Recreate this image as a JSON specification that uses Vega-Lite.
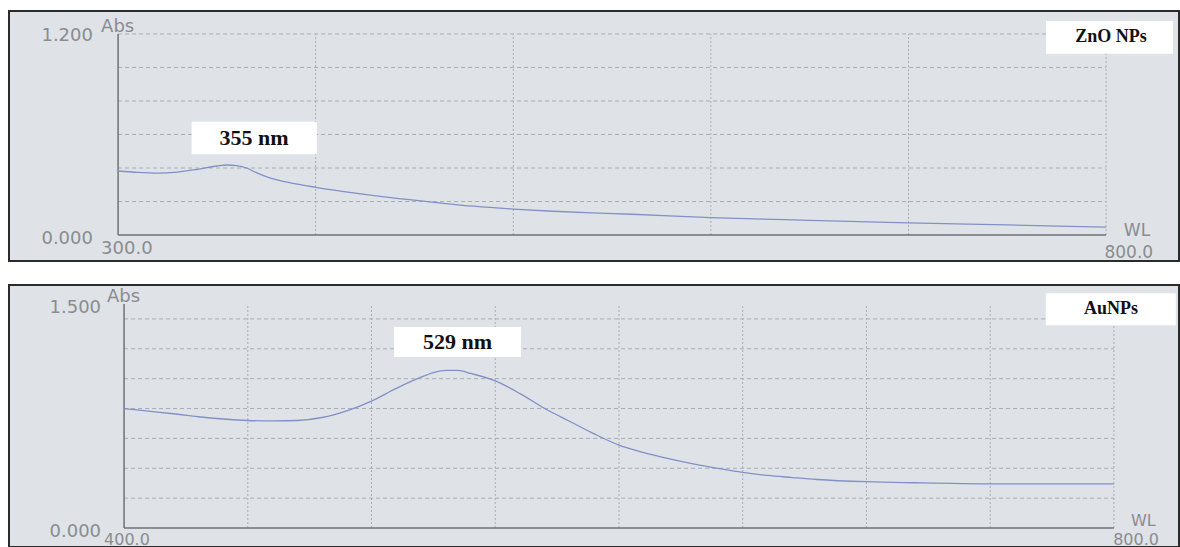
{
  "$schema": "https://vega.github.io/schema/vega-lite/v6.json",
  "background": "#ffffff",
  "padding": {"left": 8, "top": 10, "right": 2, "bottom": 0},
  "spacing": 24,
  "bounds": "flush",
  "config": {"font": "DejaVu Sans"},
  "datasets": {
    "zno": [
      {"wl": 300, "abs": 0.382}, {"wl": 310, "abs": 0.374}, {"wl": 320, "abs": 0.370},
      {"wl": 330, "abs": 0.376}, {"wl": 340, "abs": 0.392}, {"wl": 350, "abs": 0.412},
      {"wl": 355, "abs": 0.418}, {"wl": 360, "abs": 0.414}, {"wl": 365, "abs": 0.400},
      {"wl": 370, "abs": 0.372}, {"wl": 375, "abs": 0.348}, {"wl": 380, "abs": 0.330},
      {"wl": 390, "abs": 0.305}, {"wl": 400, "abs": 0.285}, {"wl": 420, "abs": 0.250},
      {"wl": 440, "abs": 0.220}, {"wl": 460, "abs": 0.195}, {"wl": 480, "abs": 0.172},
      {"wl": 500, "abs": 0.155}, {"wl": 520, "abs": 0.142}, {"wl": 540, "abs": 0.132},
      {"wl": 560, "abs": 0.124}, {"wl": 600, "abs": 0.104}, {"wl": 650, "abs": 0.088},
      {"wl": 700, "abs": 0.073}, {"wl": 750, "abs": 0.060}, {"wl": 800, "abs": 0.047}
    ],
    "aunp": [
      {"wl": 400, "abs": 0.800}, {"wl": 410, "abs": 0.782}, {"wl": 420, "abs": 0.765},
      {"wl": 430, "abs": 0.745}, {"wl": 440, "abs": 0.730}, {"wl": 450, "abs": 0.720},
      {"wl": 460, "abs": 0.717}, {"wl": 470, "abs": 0.720}, {"wl": 480, "abs": 0.740},
      {"wl": 490, "abs": 0.785}, {"wl": 500, "abs": 0.850}, {"wl": 510, "abs": 0.935},
      {"wl": 520, "abs": 1.010}, {"wl": 525, "abs": 1.040}, {"wl": 530, "abs": 1.055},
      {"wl": 535, "abs": 1.055}, {"wl": 540, "abs": 1.035}, {"wl": 550, "abs": 0.985},
      {"wl": 560, "abs": 0.900}, {"wl": 570, "abs": 0.800}, {"wl": 580, "abs": 0.715},
      {"wl": 590, "abs": 0.630}, {"wl": 600, "abs": 0.555}, {"wl": 610, "abs": 0.505},
      {"wl": 620, "abs": 0.465}, {"wl": 630, "abs": 0.430}, {"wl": 640, "abs": 0.400},
      {"wl": 650, "abs": 0.373}, {"wl": 660, "abs": 0.352}, {"wl": 670, "abs": 0.338},
      {"wl": 680, "abs": 0.325}, {"wl": 700, "abs": 0.310}, {"wl": 720, "abs": 0.303},
      {"wl": 750, "abs": 0.296}, {"wl": 780, "abs": 0.295}, {"wl": 800, "abs": 0.295}
    ]
  },
  "vconcat": [
    {
      "width": 1170,
      "height": 250,
      "view": {"fill": "#dfe3e8", "stroke": "#2b2b2b", "strokeWidth": 2},
      "layer": [
        {
          "data": {"values": [{"wl": 400}, {"wl": 500}, {"wl": 600}, {"wl": 700}, {"wl": 800}]},
          "mark": {"type": "rule", "color": "#a7adb5", "strokeWidth": 1, "strokeDash": [2, 2]},
          "encoding": {
            "x": {"field": "wl", "type": "quantitative", "scale": {"domain": [244.8, 836.9], "nice": false, "zero": false}, "axis": null},
            "y": {"datum": 0, "type": "quantitative", "scale": {"domain": [-0.155, 1.337], "nice": false, "zero": false}, "axis": null},
            "y2": {"datum": 1.2}
          }
        },
        {
          "data": {"values": [{"a": 0.2}, {"a": 0.4}, {"a": 0.6}, {"a": 0.8}, {"a": 1.0}, {"a": 1.2}]},
          "mark": {"type": "rule", "color": "#a7adb5", "strokeWidth": 1, "strokeDash": [4, 3]},
          "encoding": {
            "x": {"datum": 300, "type": "quantitative"},
            "x2": {"datum": 800},
            "y": {"field": "a", "type": "quantitative"}
          }
        },
        {
          "data": {"values": [{}]},
          "mark": {"type": "rule", "color": "#6f7277", "strokeWidth": 1.5},
          "encoding": {
            "x": {"datum": 300, "type": "quantitative"},
            "y": {"datum": 0, "type": "quantitative"},
            "y2": {"datum": 1.2}
          }
        },
        {
          "data": {"values": [{}]},
          "mark": {"type": "rule", "color": "#6f7277", "strokeWidth": 1.5},
          "encoding": {
            "x": {"datum": 300, "type": "quantitative"},
            "x2": {"datum": 800},
            "y": {"datum": 0, "type": "quantitative"}
          }
        },
        {
          "data": {"name": "zno"},
          "mark": {"type": "line", "color": "#8290c6", "strokeWidth": 1.3, "interpolate": "monotone"},
          "encoding": {
            "x": {"field": "wl", "type": "quantitative"},
            "y": {"field": "abs", "type": "quantitative"}
          }
        },
        {
          "data": {"values": [{"t": "Abs"}]},
          "mark": {"type": "text", "align": "left", "baseline": "middle", "fontSize": 18, "color": "#8a8c90"},
          "encoding": {"x": {"datum": 291.4, "type": "quantitative"}, "y": {"datum": 1.242, "type": "quantitative"}, "text": {"field": "t"}}
        },
        {
          "data": {"values": [{"t": "1.200"}]},
          "mark": {"type": "text", "align": "right", "baseline": "middle", "fontSize": 18, "color": "#8a8c90"},
          "encoding": {"x": {"datum": 287.3, "type": "quantitative"}, "y": {"datum": 1.188, "type": "quantitative"}, "text": {"field": "t"}}
        },
        {
          "data": {"values": [{"t": "0.000"}]},
          "mark": {"type": "text", "align": "right", "baseline": "middle", "fontSize": 18, "color": "#8a8c90"},
          "encoding": {"x": {"datum": 287.3, "type": "quantitative"}, "y": {"datum": -0.024, "type": "quantitative"}, "text": {"field": "t"}}
        },
        {
          "data": {"values": [{"t": "300.0"}]},
          "mark": {"type": "text", "align": "left", "baseline": "middle", "fontSize": 18, "color": "#8a8c90"},
          "encoding": {"x": {"datum": 291.4, "type": "quantitative"}, "y": {"datum": -0.084, "type": "quantitative"}, "text": {"field": "t"}}
        },
        {
          "data": {"values": [{"t": "WL"}]},
          "mark": {"type": "text", "align": "left", "baseline": "middle", "fontSize": 17, "color": "#8a8c90"},
          "encoding": {"x": {"datum": 809, "type": "quantitative"}, "y": {"datum": 0.022, "type": "quantitative"}, "text": {"field": "t"}}
        },
        {
          "data": {"values": [{"t": "800.0"}]},
          "mark": {"type": "text", "align": "right", "baseline": "middle", "fontSize": 17, "color": "#8a8c90"},
          "encoding": {"x": {"datum": 823.8, "type": "quantitative"}, "y": {"datum": -0.105, "type": "quantitative"}, "text": {"field": "t"}}
        },
        {
          "data": {"values": [{}]},
          "mark": {"type": "rect", "color": "#ffffff"},
          "encoding": {
            "x": {"datum": 337.2, "type": "quantitative"}, "x2": {"datum": 400.6},
            "y": {"datum": 0.676, "type": "quantitative"}, "y2": {"datum": 0.482}
          }
        },
        {
          "data": {"values": [{"t": "355 nm"}]},
          "mark": {"type": "text", "align": "center", "baseline": "middle", "font": "Liberation Serif", "fontWeight": "bold", "fontSize": 22, "color": "#111111"},
          "encoding": {"x": {"datum": 368.8, "type": "quantitative"}, "y": {"datum": 0.579, "type": "quantitative"}, "text": {"field": "t"}}
        },
        {
          "data": {"values": [{}]},
          "mark": {"type": "rect", "color": "#ffffff"},
          "encoding": {
            "x": {"datum": 769.6, "type": "quantitative"}, "x2": {"datum": 833.9},
            "y": {"datum": 1.278, "type": "quantitative"}, "y2": {"datum": 1.082}
          }
        },
        {
          "data": {"values": [{"t": "ZnO NPs"}]},
          "mark": {"type": "text", "align": "center", "baseline": "middle", "font": "Liberation Serif", "fontWeight": "bold", "fontSize": 18, "color": "#111111"},
          "encoding": {"x": {"datum": 802.5, "type": "quantitative"}, "y": {"datum": 1.179, "type": "quantitative"}, "text": {"field": "t"}}
        }
      ]
    },
    {
      "width": 1170,
      "height": 262,
      "view": {"fill": "#dfe3e8", "stroke": "#2b2b2b", "strokeWidth": 2},
      "layer": [
        {
          "data": {"values": [{"wl": 450}, {"wl": 500}, {"wl": 550}, {"wl": 600}, {"wl": 650}, {"wl": 700}, {"wl": 750}, {"wl": 800}]},
          "mark": {"type": "rule", "color": "#a7adb5", "strokeWidth": 1, "strokeDash": [2, 2]},
          "encoding": {
            "x": {"field": "wl", "type": "quantitative", "scale": {"domain": [353.5, 826.3], "nice": false, "zero": false}, "axis": null},
            "y": {"datum": 0, "type": "quantitative", "scale": {"domain": [-0.127, 1.627], "nice": false, "zero": false}, "axis": null},
            "y2": {"datum": 1.5}
          }
        },
        {
          "data": {"values": [{"a": 0.2}, {"a": 0.4}, {"a": 0.6}, {"a": 0.8}, {"a": 1.0}, {"a": 1.2}, {"a": 1.4}]},
          "mark": {"type": "rule", "color": "#a7adb5", "strokeWidth": 1, "strokeDash": [4, 3]},
          "encoding": {
            "x": {"datum": 400, "type": "quantitative"},
            "x2": {"datum": 800},
            "y": {"field": "a", "type": "quantitative"}
          }
        },
        {
          "data": {"values": [{}]},
          "mark": {"type": "rule", "color": "#6f7277", "strokeWidth": 1.5},
          "encoding": {
            "x": {"datum": 400, "type": "quantitative"},
            "y": {"datum": 0, "type": "quantitative"},
            "y2": {"datum": 1.5}
          }
        },
        {
          "data": {"values": [{}]},
          "mark": {"type": "rule", "color": "#6f7277", "strokeWidth": 1.5},
          "encoding": {
            "x": {"datum": 400, "type": "quantitative"},
            "x2": {"datum": 800},
            "y": {"datum": 0, "type": "quantitative"}
          }
        },
        {
          "data": {"name": "aunp"},
          "mark": {"type": "line", "color": "#8290c6", "strokeWidth": 1.3, "interpolate": "monotone"},
          "encoding": {
            "x": {"field": "wl", "type": "quantitative"},
            "y": {"field": "abs", "type": "quantitative"}
          }
        },
        {
          "data": {"values": [{"t": "Abs"}]},
          "mark": {"type": "text", "align": "left", "baseline": "middle", "fontSize": 18, "color": "#8a8c90"},
          "encoding": {"x": {"datum": 393.1, "type": "quantitative"}, "y": {"datum": 1.547, "type": "quantitative"}, "text": {"field": "t"}}
        },
        {
          "data": {"values": [{"t": "1.500"}]},
          "mark": {"type": "text", "align": "right", "baseline": "middle", "fontSize": 18, "color": "#8a8c90"},
          "encoding": {"x": {"datum": 390.7, "type": "quantitative"}, "y": {"datum": 1.474, "type": "quantitative"}, "text": {"field": "t"}}
        },
        {
          "data": {"values": [{"t": "0.000"}]},
          "mark": {"type": "text", "align": "right", "baseline": "middle", "fontSize": 18, "color": "#8a8c90"},
          "encoding": {"x": {"datum": 390.7, "type": "quantitative"}, "y": {"datum": -0.028, "type": "quantitative"}, "text": {"field": "t"}}
        },
        {
          "data": {"values": [{"t": "400.0"}]},
          "mark": {"type": "text", "align": "left", "baseline": "middle", "fontSize": 16, "color": "#8a8c90"},
          "encoding": {"x": {"datum": 391.9, "type": "quantitative"}, "y": {"datum": -0.08, "type": "quantitative"}, "text": {"field": "t"}}
        },
        {
          "data": {"values": [{"t": "WL"}]},
          "mark": {"type": "text", "align": "left", "baseline": "middle", "fontSize": 16, "color": "#8a8c90"},
          "encoding": {"x": {"datum": 806.9, "type": "quantitative"}, "y": {"datum": 0.048, "type": "quantitative"}, "text": {"field": "t"}}
        },
        {
          "data": {"values": [{"t": "800.0"}]},
          "mark": {"type": "text", "align": "right", "baseline": "middle", "fontSize": 16, "color": "#8a8c90"},
          "encoding": {"x": {"datum": 818.2, "type": "quantitative"}, "y": {"datum": -0.08, "type": "quantitative"}, "text": {"field": "t"}}
        },
        {
          "data": {"values": [{}]},
          "mark": {"type": "rect", "color": "#ffffff"},
          "encoding": {
            "x": {"datum": 509.1, "type": "quantitative"}, "x2": {"datum": 560.4},
            "y": {"datum": 1.346, "type": "quantitative"}, "y2": {"datum": 1.145}
          }
        },
        {
          "data": {"values": [{"t": "529 nm"}]},
          "mark": {"type": "text", "align": "center", "baseline": "middle", "font": "Liberation Serif", "fontWeight": "bold", "fontSize": 22, "color": "#111111"},
          "encoding": {"x": {"datum": 534.8, "type": "quantitative"}, "y": {"datum": 1.246, "type": "quantitative"}, "text": {"field": "t"}}
        },
        {
          "data": {"values": [{}]},
          "mark": {"type": "rect", "color": "#ffffff"},
          "encoding": {
            "x": {"datum": 772.5, "type": "quantitative"}, "x2": {"datum": 825},
            "y": {"datum": 1.572, "type": "quantitative"}, "y2": {"datum": 1.358}
          }
        },
        {
          "data": {"values": [{"t": "AuNPs"}]},
          "mark": {"type": "text", "align": "center", "baseline": "middle", "font": "Liberation Serif", "fontWeight": "bold", "fontSize": 18, "color": "#111111"},
          "encoding": {"x": {"datum": 798.8, "type": "quantitative"}, "y": {"datum": 1.467, "type": "quantitative"}, "text": {"field": "t"}}
        }
      ]
    }
  ]
}
